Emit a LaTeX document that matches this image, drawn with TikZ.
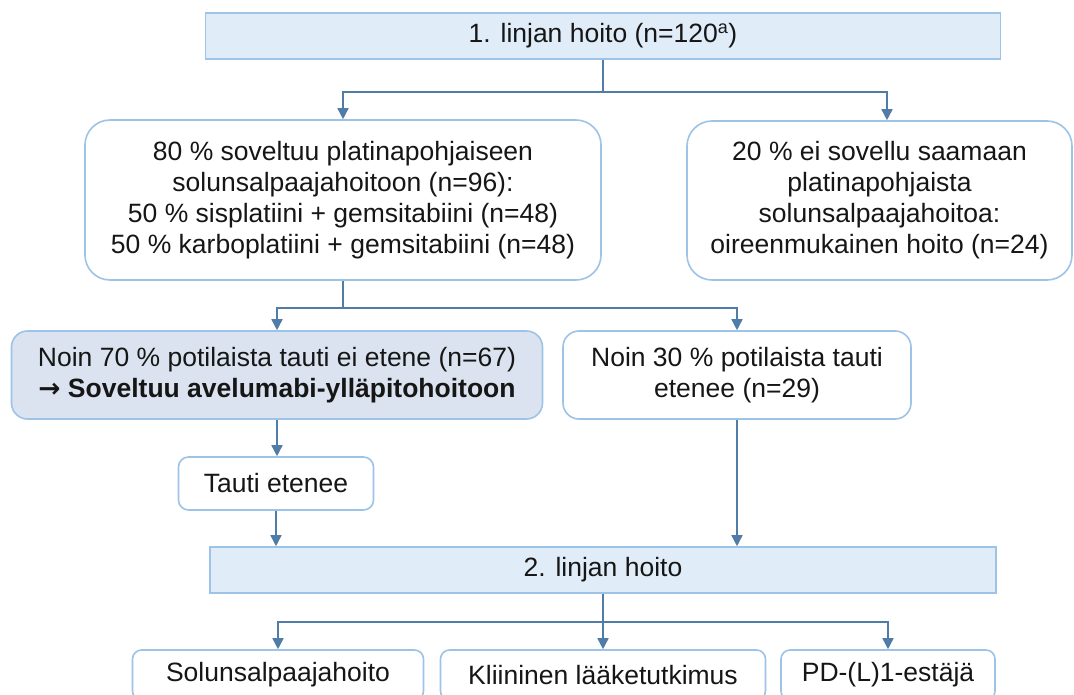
\documentclass[tikz,border=0pt]{standalone}
\usepackage{fontspec}
\setmainfont{Liberation Sans}
\newfontfamily\nuolifont{DejaVu Sans}
\usepackage{xcolor}
\usepackage{tikz}
\usetikzlibrary{calc,arrows.meta}

\definecolor{boxline}{RGB}{157,195,230}
\definecolor{boxfill}{RGB}{224,237,249}
\definecolor{shadefill}{RGB}{218,227,239}
\definecolor{arrowline}{RGB}{80,124,168}
\definecolor{txt}{RGB}{22,22,22}

\tikzset{
	linjabox/.style={draw=boxline,line width=1.6pt,fill=boxfill,text=txt,align=center,inner sep=0pt},
	valibox/.style={draw=boxline,line width=1.6pt,fill=white,text=txt,align=center,inner sep=0pt,rounded corners=#1},
	valibox/.default=10pt,
	yhteys/.style={draw=arrowline,line width=1.6pt}
}

\begin{document}
\begin{tikzpicture}[x=1pt,y=-1pt,>={Triangle[length=11pt,width=11pt]},font=\fontsize{26.5}{31}\selectfont]
			\clip (0,0) rectangle (1074,695);
			\fill[white] (0,0) rectangle (1074,695);
			
			\node[linjabox,minimum width=795,minimum height=46] (linja1) at (603,36) {1. linjan hoito (n=120\textsuperscript{\fontsize{18}{18}\selectfont a})};
			
			\node[valibox=25pt,minimum width=516,minimum height=160] (platina) at (343,200) {80 \% soveltuu platinapohjaiseen\\solunsalpaajahoitoon (n=96):\\50 \% sisplatiini + gemsitabiini (n=48)\\50 \% karboplatiini + gemsitabiini (n=48)};
			\node[valibox=25pt,minimum width=385,minimum height=159] (eiplatina) at (879.5,200.5) {20 \% ei sovellu saamaan\\platinapohjaista\\solunsalpaajahoitoa:\\oireenmukainen hoito (n=24)};
			
			\node[valibox=16pt,fill=shadefill,minimum width=531,minimum height=88] (eietene) at (277,375) {Noin 70 \% potilaista tauti ei etene (n=67)\\\textbf{{\nuolifont →} Soveltuu avelumabi-ylläpitohoitoon}};
			\node[valibox=16pt,minimum width=348,minimum height=88] (etenee) at (737,375) {Noin 30 \% potilaista tauti\\etenee (n=29)};
			
			\node[valibox=10pt,minimum width=195,minimum height=53] (tauti) at (276,483.5) {Tauti etenee};
			
			\node[linjabox,minimum width=786,minimum height=46] (linja2) at (603,570) {2. linjan hoito};
			
			\node[valibox=9pt,minimum width=291,minimum height=50] (solu) at (278,675) {Solunsalpaajahoito};
			\node[valibox=9pt,minimum width=325,minimum height=50] (kliin) at (603,675) {Kliininen lääketutkimus};
			\node[valibox=9pt,minimum width=214,minimum height=50] (pdl1) at (888,675) {PD-(L)1-estäjä};
			
			\coordinate (s1) at ($(linja1.south)+(0,32)$);
			\coordinate (s2) at ($(platina.south)+(0,27)$);
			\coordinate (s3) at ($(linja2.south)+(0,28)$);
			
			\draw[yhteys] (linja1.south) -- (s1);
			\draw[yhteys,->] (s1) -| (platina.north);
			\draw[yhteys,->] (s1) -| ($(eiplatina.north)+(7.5,0)$);
			
			\draw[yhteys] (platina.south) -- (s2);
			\draw[yhteys,->] (s2) -| (eietene.north);
			\draw[yhteys,->] (s2) -| (etenee.north);
			
			\draw[yhteys,->] (eietene.south) -- (eietene.south |- tauti.north);
			\draw[yhteys,->] (tauti.south) -- (tauti.south |- linja2.north);
			\draw[yhteys,->] (etenee.south) -- (etenee.south |- linja2.north);
			
			\draw[yhteys] (linja2.south) -- (s3);
			\draw[yhteys,->] (s3) -| (solu.north);
			\draw[yhteys,->] (s3) -- (kliin.north);
			\draw[yhteys,->] (s3) -| (pdl1.north);
		\end{tikzpicture}
\end{document}
